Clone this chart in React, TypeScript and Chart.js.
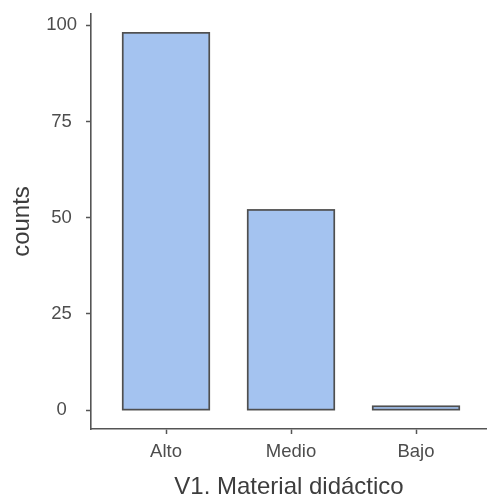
import React, { useEffect, useRef } from 'react';
import { Chart, registerables } from 'chart.js';

Chart.register(...registerables);

const categories = ['Alto', 'Medio', 'Bajo'];
const counts = [98, 52, 1];
const yTickValues = [0, 25, 50, 75, 100];
const xTitle = 'V1. Material didáctico';
const yTitle = 'counts';

const FONT = "'Liberation Sans', Arial, sans-serif";
const AXIS = '#555555';
const TICK_TEXT = '#4d4d4d';
const TITLE_TEXT = '#3d3d3d';
const BAR_STROKE = '#4f4f4f';
const BAR_STROKE_W = 1.7;

// strokes each bar's outline centred on its edge (like ggplot), using the bar elements' geometry
const centredBorder = {
  id: 'centredBorder',
  afterDatasetsDraw(chart: any) {
    const ctx = chart.ctx;
    ctx.save();
    ctx.strokeStyle = BAR_STROKE;
    ctx.lineWidth = BAR_STROKE_W;
    chart.getDatasetMeta(0).data.forEach((el: any) => {
      const { x, y, base, width } = el.getProps(['x', 'y', 'base', 'width'], true);
      const left = x - width / 2;
      const top = Math.min(y, base);
      const h = Math.abs(base - y);
      ctx.strokeRect(left, top, width, h);
    });
    ctx.restore();
  },
};

export default function App() {
  const ref = useRef<HTMLCanvasElement>(null);

  useEffect(() => {
    document.body.style.margin = '0';
    const chart = new Chart(ref.current as HTMLCanvasElement, {
      type: 'bar',
      data: {
        datasets: [
          {
            data: counts.map((v, i) => ({ x: i + 1, y: v })),
            backgroundColor: '#a4c3f0',
            borderWidth: 0,
            barPercentage: 0.692,
            categoryPercentage: 1,
          } as any,
        ],
      },
      plugins: [centredBorder],
      options: {
        animation: false,
        responsive: false,
        maintainAspectRatio: false,
        devicePixelRatio: 1,
        layout: { padding: { top: 14, right: 0, left: 0, bottom: 0 } },
        plugins: { legend: { display: false }, tooltip: { enabled: false } },
        scales: {
          x: {
            type: 'linear',
            offset: false,
            min: 0.4,
            max: 3.568,
            afterBuildTicks: (s: any) => {
              s.ticks = categories.map((_, i) => ({ value: i + 1 }));
            },
            afterFit: (s: any) => {
              s.height = 68;
              s.paddingLeft = 0;
              s.paddingRight = 0;
            },
            ticks: {
              callback: (v: any) => categories[Math.round(Number(v)) - 1] ?? '',
              font: { family: FONT, size: 18.5 },
              color: TICK_TEXT,
              padding: 7,
              maxRotation: 0,
              autoSkip: false,
            },
            grid: {
              offset: false,
              drawOnChartArea: false,
              drawTicks: true,
              tickLength: 5,
              tickColor: AXIS,
              tickWidth: 1.5,
            },
            border: { display: true, color: AXIS, width: 1.6 },
            title: {
              display: true,
              text: xTitle,
              font: { family: FONT, size: 24, lineHeight: 1 },
              color: TITLE_TEXT,
              padding: { top: 0, bottom: -2 },
            },
          },
          y: {
            type: 'linear',
            min: -4.9,
            max: 102.9,
            afterBuildTicks: (s: any) => {
              s.ticks = yTickValues.map((v) => ({ value: v }));
            },
            afterFit: (s: any) => {
              s.width = 91;
              s.paddingTop = 0;
              s.paddingBottom = 0;
            },
            ticks: {
              font: { family: FONT, size: 18.5 },
              color: TICK_TEXT,
              padding: 9,
              crossAlign: 'center',
            },
            grid: {
              drawOnChartArea: false,
              drawTicks: true,
              tickLength: 5,
              tickColor: AXIS,
              tickWidth: 1.5,
            },
            border: { display: true, color: AXIS, width: 1.6 },
            title: {
              display: true,
              text: yTitle,
              font: { family: FONT, size: 24, lineHeight: 1.2 },
              color: TITLE_TEXT,
              padding: { top: 8, bottom: 0 },
            },
          },
        },
      },
    });
    return () => chart.destroy();
  }, []);

  return (
    <div style={{ width: 487, height: 497 }}>
      <canvas ref={ref} width={487} height={497} style={{ display: 'block' }} />
    </div>
  );
}
